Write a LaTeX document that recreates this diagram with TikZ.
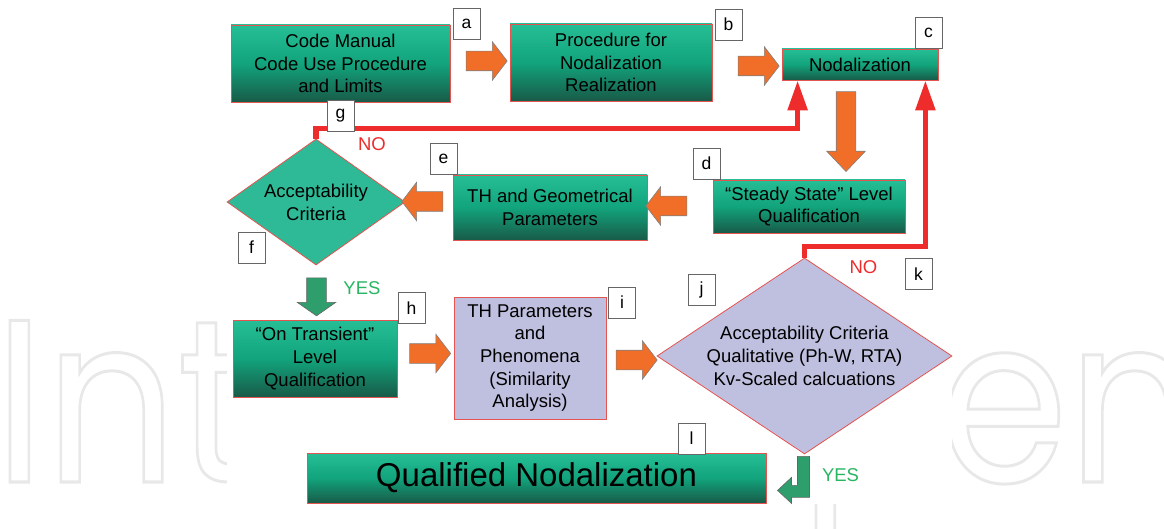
\documentclass[tikz,border=0pt]{standalone}
\usepackage{fontspec}
\setmainfont{Liberation Sans}
\newfontfamily\markfont{Poppins}
\usepackage{tikz}
\usepackage{xcolor}
\usetikzlibrary{positioning,shapes.geometric,shapes.arrows,arrows.meta,calc}
\definecolor{boxtop}{RGB}{38,190,150}
\definecolor{boxmid}{RGB}{18,164,124}
\definecolor{boxbottom}{RGB}{24,90,72}
\definecolor{checkgreen}{RGB}{46,186,150}
\definecolor{lavender}{RGB}{191,191,223}
\definecolor{edgered}{RGB}{228,84,80}
\definecolor{loopred}{RGB}{238,44,44}
\definecolor{flow}{RGB}{240,110,40}
\definecolor{yesgreen}{RGB}{46,158,108}
\definecolor{yestext}{RGB}{40,182,100}
\definecolor{mark}{RGB}{232,232,232}

\begin{document}
\begin{tikzpicture}[x=1pt, y=-1pt,
    % Node styles
    stage/.style={rectangle, draw=edgered, line width=0.8pt, top color=boxtop, bottom color=boxbottom,
                  middle color=boxmid, text=black, align=center, inner sep=0pt,
                  font=\fontsize{18.5}{22.8}\selectfont},
    check/.style={diamond, draw=edgered, line width=0.8pt, fill=checkgreen, text=black, align=center,
                  inner sep=-4pt, font=\fontsize{18.5}{22.8}\selectfont},
    analysis/.style={rectangle, draw=edgered, line width=0.8pt, fill=lavender, text=black, align=center,
                     inner sep=0pt, font=\fontsize{18.5}{22.6}\selectfont},
    tag/.style={rectangle, draw=black!60, line width=0.8pt, fill=white, minimum width=27pt,
                minimum height=31pt, inner sep=0pt, font=\fontsize{17.5}{20}\selectfont},
    % Arrow styles
    flowarrow/.style={single arrow, draw=black!50, line width=0.6pt, fill=flow, inner xsep=0pt,
                      inner ysep=9.5pt, single arrow head extend=9.5pt, single arrow tip angle=105,
                      minimum height=41pt},
    yesarrow/.style={flowarrow, fill=yesgreen, draw=black!60},
    yesbend/.style={draw=black!60, line width=0.6pt, fill=yesgreen},
    noloop/.style={draw=loopred, line width=5.5pt, -{Triangle[length=30pt, width=19pt]}},
    notext/.style={text=loopred, font=\fontsize{18.5}{22}\selectfont},
    yeslabel/.style={text=yestext, font=\fontsize{18.5}{22}\selectfont}
]
\useasboundingbox (0,0) rectangle (1164,529);

% Watermark behind the figure
\node[anchor=base west, inner sep=0pt, transform shape, xscale=0.89, text=mark,
      font=\markfont\fontsize{232}{232}\selectfont] (watermark) at (-6,482)
    {\special{pdf:literal direct 1 Tr 3 w}IntechOpen\special{pdf:literal direct 0 Tr}};
\fill[white] (227,0) rectangle (952,504);

% Qualification stages
\node[stage, minimum width=219pt, minimum height=77pt] (code_manual) at (340.5,63.5) {Code Manual\\Code Use Procedure\\and Limits};
\node[stage, minimum width=202pt, minimum height=77pt] (procedure) at (611,62.5) {Procedure for\\Nodalization\\Realization};
\node[stage, minimum width=156pt, minimum height=31pt] (nodalization) at (860,64.5) {Nodalization};
\node[stage, minimum width=192pt, minimum height=53pt] (steady_state) at (809,206.5) {“Steady State” Level\\Qualification};
\node[stage, minimum width=194pt, minimum height=65pt] (th_geometry) at (550,207.5) {TH and Geometrical\\Parameters};
\node[check, aspect=1.41, minimum width=178pt, minimum height=126pt] (criteria_ss) at (316,202) {Acceptability\\Criteria};
\node[stage, minimum width=164pt, minimum height=77pt] (on_transient) at (315,358.5) {“On Transient”\\Level\\Qualification};
\node[analysis, minimum width=152pt, minimum height=122pt] (similarity) at (530,358) {TH Parameters\\and\\Phenomena\\(Similarity\\Analysis)};
\node[check, fill=lavender, aspect=1.5, minimum width=295pt, minimum height=196pt] (criteria_tr) at (804.5,356) {Acceptability Criteria\\Qualitative (Ph-W, RTA)\\Kv-Scaled calcuations};
\node[stage, minimum width=459pt, minimum height=50pt, font=\fontsize{33}{40}\selectfont] (qualified) at (536.5,478) {Qualified Nodalization};

% Block arrows between stages
\node[flowarrow] (arrow_ab) at ($(code_manual.east)+(32.5,-2.5)$) {};
\node[flowarrow] (arrow_bc) at ($(procedure.east)+(42.5,3.5)$) {};
\node[flowarrow, rotate=270, minimum height=80pt, single arrow tip angle=87] (arrow_cd) at ($(nodalization.south)+(-14,46)$) {};
\node[flowarrow, rotate=180] (arrow_de) at ($(steady_state.west)+(-42.5,-0.5)$) {};
\node[flowarrow, rotate=180] (arrow_ef) at ($(th_geometry.west)+(-26.5,-6)$) {};
\node[yesarrow, rotate=270, minimum height=38pt, single arrow tip angle=110] (arrow_fh) at ($(criteria_ss.south)+(0.5,28)$) {};
\node[flowarrow] (arrow_hi) at ($(on_transient.east)+(29,-5)$) {};
\node[flowarrow] (arrow_ij) at ($(similarity.east)+(26.5,2)$) {};
\draw[yesbend] ($(criteria_tr.south)+(5,2)$) -- ++(0,41) -- ++(-18,0) -- ++(0,6) -- ++(-14,-13)
    -- ++(14,-13) -- ++(0,8) -- ++(6,0) -- ++(0,-29) -- cycle;

% Feedback loops
\draw[noloop] (criteria_ss.north) -- ++(0,-10) -| ([xshift=16pt]nodalization.south west);
\draw[noloop] (criteria_tr.north) -- ++(0,-11) -| ([xshift=-13pt]nodalization.south east);

% Decision labels
\node[notext] (no_ss) at (372,144) {NO};
\node[notext] (no_tr) at (863.5,267) {NO};
\node[yeslabel] (yes_ss) at (362,288) {YES};
\node[yeslabel] (yes_tr) at (840.5,475) {YES};

% Step tags
\node[tag] (tag_a) at (466.5,24) {a};
\node[tag] (tag_b) at (728.5,24.5) {b};
\node[tag] (tag_c) at (928.5,32.5) {c};
\node[tag] (tag_d) at (706.5,163.5) {d};
\node[tag] (tag_e) at (443.5,159) {e};
\node[tag] (tag_f) at (251.5,247.5) {f};
\node[tag] (tag_g) at (340.5,116) {g};
\node[tag] (tag_h) at (411.5,308) {h};
\node[tag] (tag_i) at (622,302.5) {i};
\node[tag] (tag_j) at (701.5,289.5) {j};
\node[tag] (tag_k) at (918.5,274) {k};
\node[tag] (tag_l) at (691.5,438.5) {l};

\end{tikzpicture}
\end{document}
